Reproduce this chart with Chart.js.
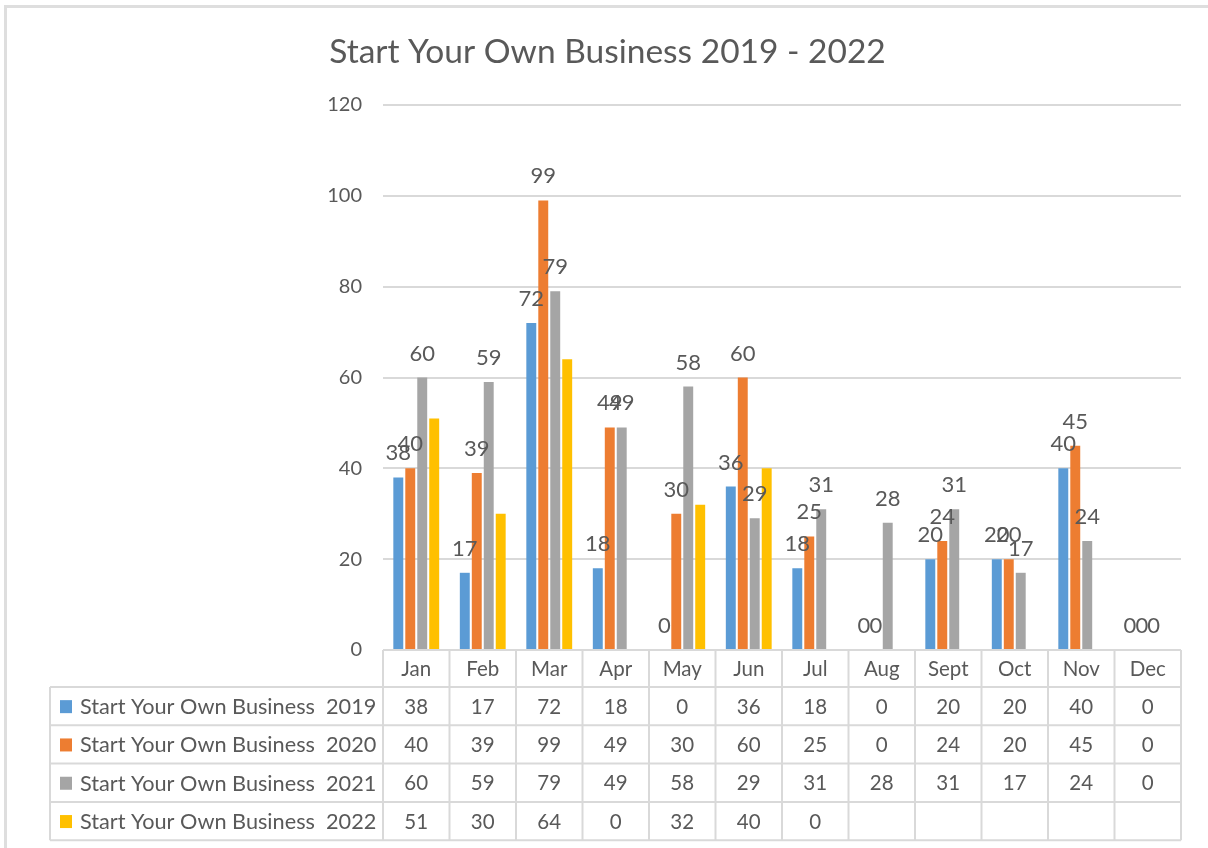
<!DOCTYPE html>
<html><head><meta charset="utf-8">
<script src="https://cdn.jsdelivr.net/npm/chart.js@4/dist/chart.umd.min.js"></script>
<style>
html,body{margin:0;padding:0;background:#fff;}
canvas{display:block;}
</style></head><body>
<canvas id="c" width="1208" height="848"></canvas>
<script>
const chartTitle = 'Start Your Own Business 2019 - 2022';
const months = ['Jan','Feb','Mar','Apr','May','Jun','Jul','Aug','Sept','Oct','Nov','Dec'];
const seriesNames = ['Start Your Own Business  2019','Start Your Own Business  2020','Start Your Own Business  2021','Start Your Own Business  2022'];
const s2019 = [38,17,72,18,0,36,18,0,20,20,40,0];
const s2020 = [40,39,99,49,30,60,25,0,24,20,45,0];
const s2021 = [60,59,79,49,58,29,31,28,31,17,24,0];
const s2022 = [51,30,64,0,32,40,0,null,null,null,null,null];
const seriesColors = ['#5B9BD5','#ED7D31','#A5A5A5','#FFC000'];
const seriesLabelled = [true,true,true,false];

const FONT = 'Lato';
const TXT = '#595959';
const LINE = '#d9d9d9';

const allSeries = [s2019,s2020,s2021,s2022];

const framePlugin = {
  id:'frame',
  beforeDraw(chart){
    const ctx = chart.ctx;
    ctx.save();
    ctx.fillStyle = '#fff';
    ctx.fillRect(0,0,chart.width,chart.height);
    ctx.fillStyle = '#dedede';
    ctx.fillRect(4,5,3,chart.height-5);
    ctx.fillRect(4,5,chart.width-4,3);
    ctx.restore();
  }
};

const labelPlugin = {
  id:'vals',
  afterDatasetsDraw(chart){
    const ctx = chart.ctx;
    ctx.save();
    ctx.font = '22px ' + FONT;
    ctx.fillStyle = TXT;
    ctx.textAlign = 'center';
    ctx.textBaseline = 'alphabetic';
    chart.data.datasets.forEach((ds,di)=>{
      if(!seriesLabelled[di]) return;
      const meta = chart.getDatasetMeta(di);
      meta.data.forEach((bar,i)=>{
        const v = ds.data[i];
        if(v===null || v===undefined) return;
        ctx.fillText(String(v), bar.x, bar.y - 17);
      });
    });
    ctx.restore();
  }
};

const tablePlugin = {
  id:'dtable',
  afterDraw(chart){
    const ctx = chart.ctx;
    const xs = chart.scales.x;
    const area = chart.chartArea;
    const n = months.length;
    const catW = (area.right - area.left)/n;
    const top = area.bottom;
    const headH = 37;
    const rowH = 38.3;
    const leftX = 50;
    const rows = allSeries.length;
    const bottom = top + headH + rows*rowH;
    ctx.save();
    ctx.strokeStyle = LINE;
    ctx.lineWidth = 2;
    ctx.beginPath();
    ctx.moveTo(area.left, top); ctx.lineTo(area.right, top);
    for(let r=0;r<=rows;r++){
      const y = top + headH + r*rowH;
      ctx.moveTo(leftX, y); ctx.lineTo(area.right, y);
    }
    for(let i=0;i<=n;i++){
      const x = area.left + i*catW;
      ctx.moveTo(x, top); ctx.lineTo(x, bottom);
    }
    ctx.moveTo(leftX, top+headH); ctx.lineTo(leftX, bottom);
    ctx.stroke();

    ctx.fillStyle = TXT;
    ctx.textAlign = 'center';
    ctx.textBaseline = 'middle';
    ctx.font = '20.5px ' + FONT;
    months.forEach((m,i)=>{
      const cx = xs.getPixelForValue(i);
      ctx.fillText(m, cx, top + headH/2 + 1);
    });
    allSeries.forEach((arr,r)=>{
      const cy = top + headH + r*rowH + rowH/2 + 1;
      ctx.font = '20.5px ' + FONT;
      ctx.textAlign = 'center';
      ctx.fillStyle = TXT;
      arr.forEach((v,i)=>{
        if(v===null || v===undefined) return;
        ctx.fillText(String(v), xs.getPixelForValue(i), cy);
      });
      ctx.fillStyle = seriesColors[r];
      ctx.fillRect(60, cy-7, 12, 13);
      ctx.fillStyle = TXT;
      ctx.textAlign = 'left';
      ctx.font = '21.7px ' + FONT;
      ctx.fillText(seriesNames[r], 80, cy);
    });
    ctx.restore();
  }
};

new Chart(document.getElementById('c'), {
  type:'bar',
  data:{
    labels: months,
    datasets: allSeries.map((arr,i)=>({
      label: seriesNames[i],
      data: arr,
      backgroundColor: seriesColors[i],
      borderWidth: 0,
      categoryPercentage: 0.72,
      barPercentage: 0.83
    }))
  },
  options:{
    responsive:false,
    animation:false,
    devicePixelRatio:1,
    layout:{padding:{left:7,right:0,top:0,bottom:198}},
    plugins:{
      legend:{display:false},
      tooltip:{enabled:false},
      title:{display:true,text:chartTitle,color:TXT,
        font:{family:FONT,size:33.5,weight:'normal',lineHeight:1.2},
        padding:{top:32,bottom:32.8}}
    },
    scales:{
      x:{display:false},
      y:{min:0,max:120,
        ticks:{stepSize:20,color:TXT,font:{family:FONT,size:20},padding:21},
        grid:{color:LINE,lineWidth:2,drawTicks:false},
        border:{display:false},
        afterFit(s){ s.width = 376; }
      },
      yRight:{position:'right',display:true,min:0,max:120,
        ticks:{display:false},
        grid:{display:false,drawTicks:false},
        border:{display:false},
        afterFit(s){ s.width = 27; }
      }
    }
  },
  plugins:[framePlugin,labelPlugin,tablePlugin]
});
</script>
</body></html>
